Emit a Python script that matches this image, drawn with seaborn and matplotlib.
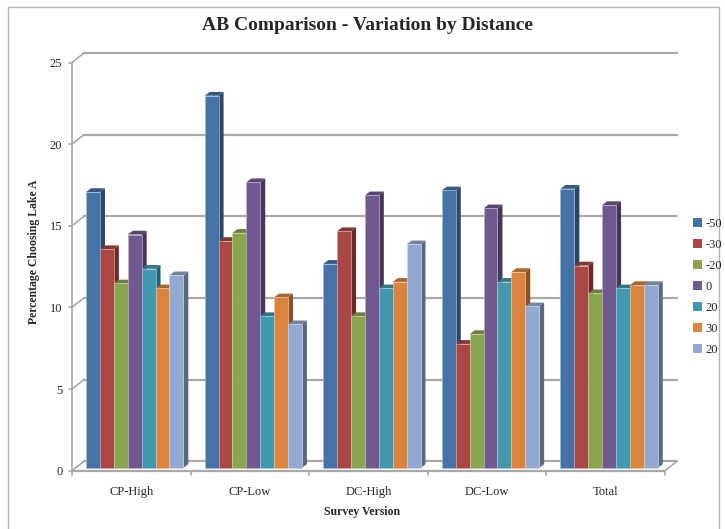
import numpy as np
import pandas as pd
import seaborn as sns
import matplotlib
matplotlib.use("Agg")
import matplotlib.pyplot as plt
import matplotlib.colors as mcolors
from matplotlib.patches import Polygon, Rectangle, Patch

# ---------------- data ----------------
categories = ["CP-High", "CP-Low", "DC-High", "DC-Low", "Total"]
series_labels = ["-50", "-30", "-20", "0", "20", "30", "20"]
v_m50 = [16.9, 22.8, 12.5, 17.0, 17.1]
v_m30 = [13.4, 13.9, 14.5, 7.6, 12.4]
v_m20 = [11.3, 14.4, 9.3, 8.2, 10.7]
v_0 = [14.3, 17.5, 16.7, 15.9, 16.1]
v_20 = [12.2, 9.3, 11.0, 11.4, 11.0]
v_30 = [11.0, 10.45, 11.4, 12.0, 11.2]
v_20b = [11.8, 8.8, 13.7, 9.9, 11.2]
series_values = [v_m50, v_m30, v_m20, v_0, v_20, v_30, v_20b]
colors = ["#4572A7", "#AA4643", "#89A54E", "#71588F", "#4198AF", "#DB843D", "#93A9CF"]

keys = [f"s{i}" for i in range(len(series_labels))]
rows = []
for k, vals in zip(keys, series_values):
    for c, v in zip(categories, vals):
        rows.append({"Survey Version": c, "series": k, "value": v})
df = pd.DataFrame(rows)

# ---------------- figure ----------------
sns.set_theme(style="white")
plt.rcParams["font.family"] = ["Liberation Serif", "DejaVu Serif"]

W, H = 725, 529
fig = plt.figure(figsize=(W / 100, H / 100), dpi=100)
fig.patch.set_facecolor("white")

# front frame of the 3-D plot (pixels)
L, R, B0, T25 = 72, 665, 470.7, 62.5
ax = fig.add_axes([L / W, (H - B0) / H, (R - L) / W, (B0 - T25) / H])
ax.set_xlim(-0.5, 4.5)
ax.set_ylim(0, 25)
ax.patch.set_alpha(0)
px_x = (R - L) / 5.0
px_y = (B0 - T25) / 25.0

sns.barplot(data=df, x="Survey Version", y="value", hue="series",
            order=categories, hue_order=keys, palette=colors,
            width=0.82, gap=0, saturation=1, legend=False, ax=ax, zorder=5,
            err_kws={"linewidth": 0})
ax.set_xlim(-0.5, 4.5)
ax.set_ylim(0, 25)

# 3-D depth geometry
wall_dx, wall_dy = 12.0 / px_x, 9.5 / px_y      # back wall offset
bar_sx, bar_sy = 3.4 / px_x, 2.7 / px_y          # bar front plane offset
dep_x, dep_y = 5.0 / px_x, 3.8 / px_y            # bar depth

grid_c = "#a8a8a8"
# back wall gridlines + diagonals
for v in range(0, 26, 5):
    ax.plot([-0.5 + wall_dx, 4.5 + wall_dx], [v + wall_dy, v + wall_dy],
            color=grid_c, lw=1.6, clip_on=False, zorder=1)
    ax.plot([-0.5, -0.5 + wall_dx], [v, v + wall_dy],
            color=grid_c, lw=1.2, clip_on=False, zorder=1)
    ax.plot([-0.5 - 3 / px_x, -0.5], [v, v], color=grid_c, lw=1.2,
            clip_on=False, zorder=1)
# floor
ax.plot([-0.5, 4.5], [0, 0], color=grid_c, lw=1.6, clip_on=False, zorder=2)
ax.plot([4.5, 4.5 + wall_dx], [0, wall_dy], color=grid_c, lw=1.2,
        clip_on=False, zorder=2)
# front left axis
ax.plot([-0.5, -0.5], [0, 25], color=grid_c, lw=1.2, clip_on=False, zorder=2)
# category ticks
for b in np.arange(-0.5, 4.6, 1.0):
    ax.plot([b, b], [0, -4 / px_y], color=grid_c, lw=1.2, clip_on=False, zorder=2)

# shift bars and add 3-D faces
for p in list(ax.patches):
    x0 = p.get_x() + bar_sx
    w = p.get_width()
    h = p.get_height()
    y0 = bar_sy
    p.set_x(x0)
    p.set_y(y0)
    p.set_clip_on(False)
    fc = np.array(mcolors.to_rgb(p.get_facecolor()))
    p.set_edgecolor(tuple(np.clip(fc * 0.5 + 0.5, 0, 1)))
    p.set_linewidth(0.5)
    x1 = x0 + w
    y1 = y0 + h
    side = Polygon([(x1, y0), (x1, y1), (x1 + dep_x, y1 + dep_y), (x1 + dep_x, y0 + dep_y)],
                   closed=True, facecolor=tuple(fc * 0.62), edgecolor="none",
                   zorder=3, clip_on=False)
    top = Polygon([(x0, y1), (x1, y1), (x1 + dep_x, y1 + dep_y), (x0 + dep_x, y1 + dep_y)],
                  closed=True, facecolor=tuple(fc * 0.78), edgecolor="none",
                  zorder=3, clip_on=False)
    ax.add_patch(side)
    ax.add_patch(top)

for s in ax.spines.values():
    s.set_visible(False)
ax.set_yticks([0, 5, 10, 15, 20, 25])
ax.set_yticklabels(["0", "5", "10", "15", "20", "25"])
ax.tick_params(axis="y", length=0, pad=7, labelsize=9)
ax.tick_params(axis="x", length=0, pad=11, labelsize=9)
ax.set_xlabel("Survey Version", fontsize=8.5, fontweight="bold")
ax.set_ylabel("Percentage Choosing Lake A", fontsize=8.5, fontweight="bold")
ax.xaxis.set_label_coords((362 - L) / (R - L), -(506 - B0) / (B0 - T25))
ax.yaxis.set_label_coords((40 - L) / (R - L), (B0 - 252) / (B0 - T25))

# legend
handles = [Patch(facecolor=c, edgecolor="none") for c in colors]
leg = fig.legend(handles, series_labels, loc="upper left",
                 bbox_to_anchor=(693 / W, 1 - 218 / H), frameon=False,
                 fontsize=9, handlelength=0.7, handleheight=0.7,
                 handletextpad=0.3, labelspacing=0.72, borderaxespad=0,
                 borderpad=0)

fig.text(368 / W, 1 - 26 / H, "AB Comparison - Variation by Distance",
         ha="center", va="center", fontsize=14, fontweight="bold")

# outer chart border
fig.patches.append(Rectangle((8 / W, -0.01), 711 / W, 1 - 7 / H + 0.01,
                             transform=fig.transFigure, fill=False,
                             edgecolor="#b4b4b4", lw=1.0))

fig.savefig("out.png", dpi=100)
